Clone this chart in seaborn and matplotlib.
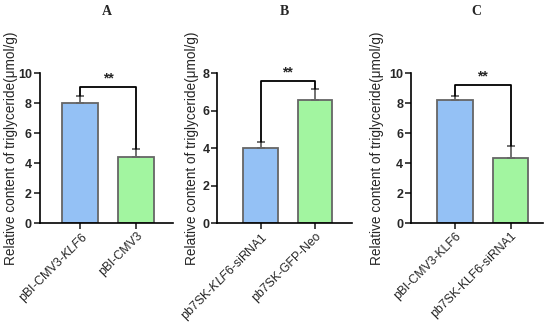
import seaborn as sns
import matplotlib.pyplot as plt
import numpy as np
import pandas as pd

# panel data
titles = ["A", "B", "C"]
groups_a = ["pBI-CMV3-$\\it{KLF6}$", "pBI-CMV3"]
groups_b = ["pb7SK-$\\it{KLF6}$-siRNA1", "pb7SK-GFP-Neo"]
groups_c = ["pBI-CMV3-KLF6", "pb7SK-KLF6-siRNA1"]
means_a = [8.0, 4.4]
means_b = [4.0, 6.55]
means_c = [8.2, 4.35]
sd_a = [0.45, 0.55]
sd_b = [0.33, 0.6]
sd_c = [0.25, 0.8]
ymax = [10, 8, 10]
yticks = [[0, 2, 4, 6, 8, 10], [0, 2, 4, 6, 8], [0, 2, 4, 6, 8, 10]]
bracket_y = [9.1, 7.6, 9.22]
sig = ["**", "**", "**"]

sns.set_theme(style="ticks")
plt.rcParams['font.family'] = ['Liberation Sans', 'DejaVu Sans']
plt.rcParams['mathtext.fontset'] = 'custom'
plt.rcParams['mathtext.it'] = 'Liberation Sans:italic'
plt.rcParams['mathtext.rm'] = 'Liberation Sans'

fig = plt.figure(figsize=(5.5, 3.28), dpi=100)
boxes = [(0.072, 0.315), (0.395, 0.64), (0.747, 0.987)]
xlims = [(-0.72, 1.66), (-0.8, 1.68), (-0.79, 1.58)]
label_x = [18, 199, 384]
colors = ["#94c1f5", "#a2f5a0"]

panels = [(groups_a, means_a, sd_a), (groups_b, means_b, sd_b), (groups_c, means_c, sd_c)]
for i, (grp, m, s) in enumerate(panels):
    l, r = boxes[i]
    ax = fig.add_axes([l, 0.32, r - l, 0.457])
    df = pd.DataFrame({"group": grp, "value": m})
    sns.barplot(data=df, x="group", y="value", hue="group", palette=colors,
                saturation=1, width=0.64, edgecolor="#666666", linewidth=1.3,
                ax=ax, legend=False, errorbar=None)
    xs = np.arange(len(grp))
    ax.errorbar(xs, m, yerr=[np.zeros(len(s)), s], fmt="none", ecolor="#666666",
                elinewidth=1.3, capsize=3, capthick=1.3)
    top = [m[k] + s[k] for k in range(2)]
    by = bracket_y[i]
    ax.plot([0, 0, 1, 1], [top[0], by, by, top[1]], color="black", lw=1.3)
    ax.text(0.5, by + ymax[i] * 0.01, sig[i], ha="center", va="bottom",
            fontsize=10, fontweight="bold")
    ax.set_xlim(*xlims[i])
    ax.set_ylim(0, ymax[i])
    ax.set_yticks(yticks[i])
    ax.set_xlabel("")
    ax.set_ylabel("Relative content of triglyceride(μmol/g)", fontsize=9.8)
    ax.yaxis.set_label_coords(label_x[i] / 550, 0.5485, transform=fig.transFigure)
    ax.tick_params(axis="y", labelsize=9, width=1.2, length=4, pad=1.5)
    ax.tick_params(axis="x", labelsize=8.8, width=1.2, length=4, pad=1)
    for lab in ax.get_yticklabels():
        lab.set_fontweight("bold")
    ax.set_xticks(xs)
    ax.set_xticklabels(grp, rotation=45, ha="right", rotation_mode="anchor")
    for sp in ["left", "bottom"]:
        ax.spines[sp].set_linewidth(1.2)
        ax.spines[sp].set_color("black")
    sns.despine(ax=ax)
    fig.text((l + r) / 2, 0.965, titles[i], ha="center", va="center",
             fontsize=10, fontweight="bold", family=["Liberation Serif", "DejaVu Serif"])

fig.savefig("out.png", dpi=100)
